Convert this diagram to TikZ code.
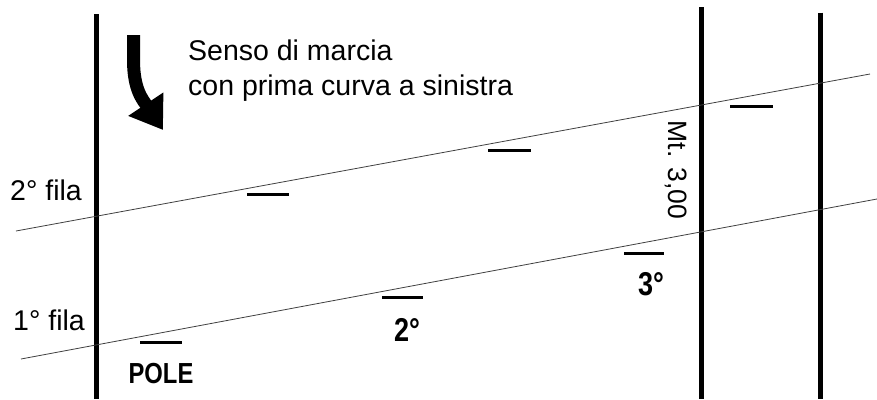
\documentclass[tikz,border=0pt]{standalone}
\usepackage{fontspec}
\setmainfont{Liberation Sans}
\usepackage{graphicx}
\usetikzlibrary{arrows.meta}
\newcommand{\narrow}[1]{\scalebox{0.82}[1]{#1}}

\begin{document}
\begin{tikzpicture}[x=1pt,y=-1pt,
  border/.style={line width=4.5pt},
  row/.style={black!75,line width=0.8pt},
  slot/.style={line width=3pt},
  txt/.style={inner sep=0pt,font=\fontsize{28.5}{35}\selectfont},
  gridpos/.style={inner sep=0pt,font=\bfseries\fontsize{29}{32}\selectfont}]
\useasboundingbox (0,0) rectangle (877,399);
% Track borders
\draw[border] (96.7,14) -- (96.7,399);
\draw[border] (701.7,7) -- (701.7,399);
\draw[border] (820.5,12.5) -- (820.5,399);
% Grid rows
\draw[row] (16,231) -- (870,74);
\draw[row] (21,359) -- (877,199);
% Grid slots
\draw[slot] (140,342) -- (182,342);
\draw[slot] (382,297) -- (423,297);
\draw[slot] (624,253) -- (664,253);
\draw[slot] (247,194) -- (289,194);
\draw[slot] (488,150) -- (531,150);
\draw[slot] (730,106) -- (773,106);
% Labels
\node[txt,anchor=base west] (fila2) at (10,200) {2° fila};
\node[txt,anchor=base west] (fila1) at (13,330) {1° fila};
\node[gridpos,anchor=base] (pole) at (161,383) {\narrow{POLE}};
\node[gridpos,anchor=base,font=\bfseries\fontsize{33}{36}\selectfont] (pos2) at (407,341) {\narrow{2°}};
\node[gridpos,anchor=base,font=\bfseries\fontsize{33}{36}\selectfont] (pos3) at (651,295) {\narrow{3°}};
\node[txt,anchor=base,rotate=-90,font=\fontsize{26.5}{30}\selectfont] (mt) at (668,170) {Mt. 3,00};
\node[txt,anchor=base west,align=left] (senso) at (188,95) {Senso di marcia\\con prima curva a sinistra};
% Direction arrow
\draw[line width=13pt,-{Triangle[length=31pt,width=40pt]}]
  (133.5,35) -- (133.5,60) .. controls (133.5,90) and (143,100) .. (163,130);
\end{tikzpicture}
\end{document}
